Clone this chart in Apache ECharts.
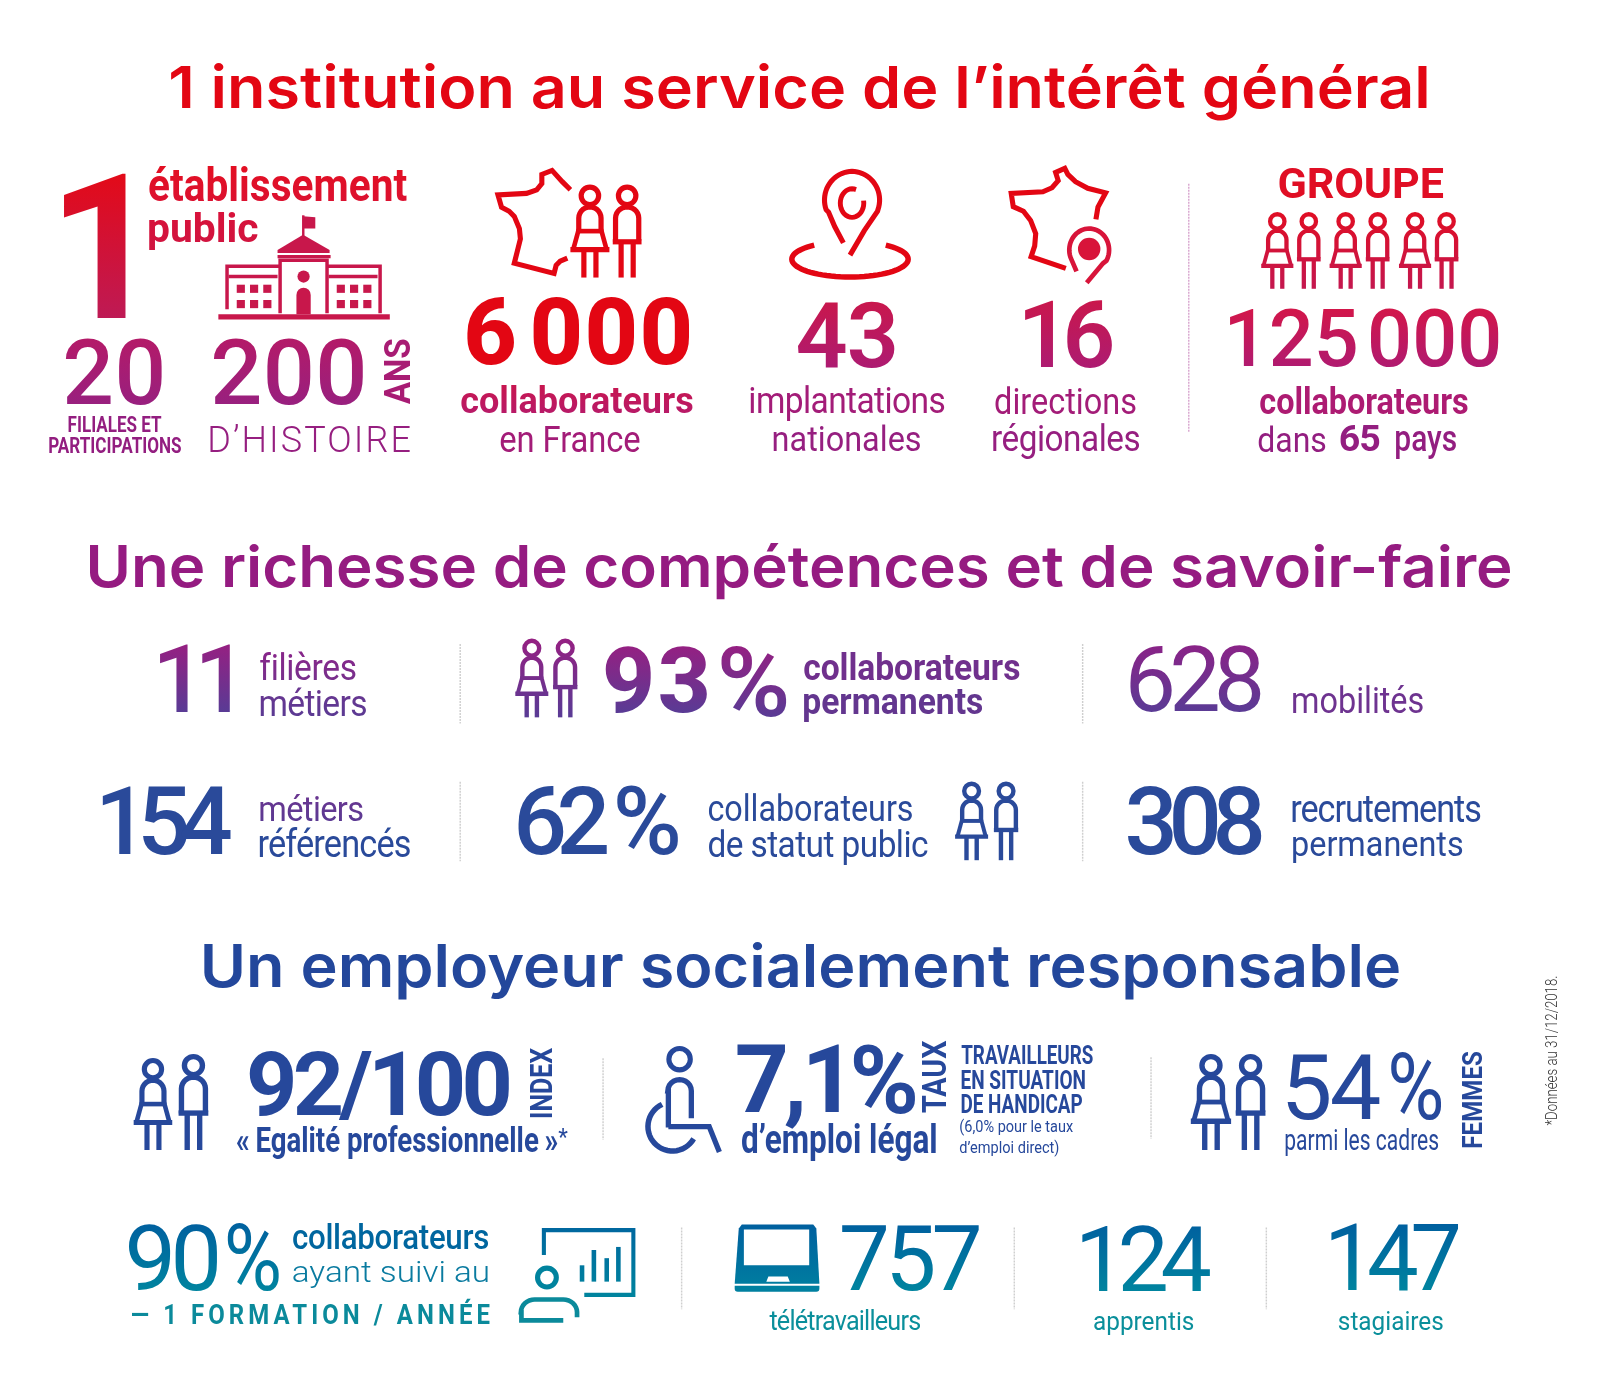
<!DOCTYPE html>
<html><head><meta charset="utf-8">
<script src="https://cdn.jsdelivr.net/npm/echarts@6/dist/echarts.min.js"></script>
<style>html,body{margin:0;padding:0;background:#fff}#c{width:1600px;height:1400px}</style>
</head><body><div id="c"></div>
<script>
/* ---------- content ---------- */
const headings = ['1 institution au service de l’intérêt général','Une richesse de compétences et de savoir-faire','Un employeur socialement responsable'];
const institutionFigures = ['1','20','200','6\u200A000','43','16','125\u200A000','65'];
const institutionLabels = ['établissement','public','FILIALES ET','PARTICIPATIONS','ANS','D’HISTOIRE','collaborateurs','en France','implantations','nationales','directions','régionales','GROUPE','collaborateurs','dans','pays'];
const skillFigures = ['11','93','%','628','154','62','%','308'];
const skillLabels = ['filières','métiers','collaborateurs','permanents','mobilités','métiers','référencés','collaborateurs','de statut public','recrutements','permanents'];
const employerFigures = ['92/100','7,1','%','54','%','90','%','757','124','147'];
const employerLabels = ['INDEX','«\u2009Egalité professionnelle\u2009»','*','TAUX','d’emploi légal','TRAVAILLEURS','EN SITUATION','DE HANDICAP','(6,0% pour le taux','d’emploi direct)','parmi les cadres','FEMMES','collaborateurs','ayant suivi au','— 1 FORMATION / ANNÉE','télétravailleurs','apprentis','stagiaires'];
const footnote = ['*Données au 31/12/2018.'];

/* ---------- helpers ---------- */
const K = 1600/1568, els = [], textFx = [];
const cv = document.createElement('canvas'), ctx = cv.getContext('2d',{willReadFrequently:true});
const RB='Roboto', HEAD='Inter';
function inkAt(str, weight, fam, sz, ls){
  const font = `${weight} ${sz}px ${fam}`;
  ctx.font = font; ctx.letterSpacing = (ls||0)+'px';
  const w = Math.ceil(ctx.measureText(str).width+sz+Math.abs(ls||0)*str.length);
  const h = Math.ceil(sz*2.5), bx=Math.ceil(sz/2), by=Math.ceil(sz*1.5);
  cv.width = w; cv.height = h;
  ctx.font = font; ctx.letterSpacing = (ls||0)+'px';
  ctx.textBaseline='alphabetic'; ctx.textAlign='left'; ctx.fillStyle='#000';
  ctx.fillText(str,bx,by);
  const d = ctx.getImageData(0,0,w,h).data;
  let x0=w,x1=0,y0=h,y1=0;
  for(let y=0;y<h;y++)for(let x=0;x<w;x++){
    if(d[(y*w+x)*4+3]>96){ if(x<x0)x0=x; if(x>x1)x1=x; if(y<y0)y0=y; if(y>y1)y1=y; }
  }
  return {A:by-y0, D:y1+1-by, L:bx-x0, R:x1+1-bx};
}
function midOffset(weight,fam,size){
  ctx.letterSpacing='0px';
  ctx.font = `${weight} ${size}px ${fam}`;
  ctx.textBaseline='alphabetic';
  const a = ctx.measureText('x');
  ctx.textBaseline='middle';
  const b = ctx.measureText('x');
  ctx.textBaseline='alphabetic';
  return b.actualBoundingBoxDescent-a.actualBoundingBoxDescent;
}
/* mode: 'scale' stretches the glyphs, 'track' only changes letter spacing, 'mix' does a bit of both,
   a number fixes the glyph stretch and leaves the rest to letter spacing */
function fit(str, extent, across, weight, fam, mode){
  const p = inkAt(str, weight, fam, 200);
  const size = 200*across/(p.A+p.D);
  const q = inkAt(str, weight, fam, size);
  const W0 = q.L+q.R, n = Math.max(1,[...str].length-1);
  let sxT = 1;
  if(mode==='scale') sxT = extent/W0;
  else if(mode==='mix') sxT = Math.max(extent/W0, 0.9);
  else if(typeof mode==='number') sxT = mode;
  const ls = mode==='scale' ? 0 : (extent/sxT - W0)/n;
  const q2 = Math.abs(ls)>1e-3 ? inkAt(str, weight, fam, size, ls) : q;
  return {size, ls:Math.abs(ls)>1e-3?ls:0, q:q2, sx: extent/(q2.L+q2.R), m: midOffset(weight,fam,size)};
}
function t(str, x0, x1, top, bot, weight, color, fam, mode){
  fam = fam||RB; mode = mode||'mix';
  if(bot-top>=45){                         /* large figures: optical side adjustment */
    const c=str[0];
    x0 += (c==='1'&&str.length>1)?5:(c==='4'||c==='%')?0.5:3;
    x1 -= c==='%'?0:1.5;
  }
  x0*=K;x1*=K;top*=K;bot*=K;
  const F = fit(str, x1-x0, bot-top, weight, fam, mode);
  const X = x0 + F.q.L*F.sx, Y = bot - F.q.D - F.m;
  const solid = Array.isArray(color)?color[0]:color;
  if(Array.isArray(color) || F.ls) textFx.push({str, X, top:top-Y, bot:bot-Y, color:Array.isArray(color)?color:null, ls:F.ls});
  els.push({type:'text', x:X, y:Y, scaleX:F.sx, silent:true,
    style:{text:str, font:`${weight} ${F.size}px ${fam}`, fill:solid, align:'left', verticalAlign:'middle'}});
}
function r(str, xL, xR, yT, yB, weight, color, fam, mode){
  fam = fam||RB; mode = mode||'scale'; xL*=K;xR*=K;yT*=K;yB*=K;
  const F = fit(str, yB-yT, xR-xL, weight, fam, mode);
  const X = xR-F.q.D-F.m;
  if(F.ls) textFx.push({str, X, color:null, ls:F.ls});
  els.push({type:'text', x:X, y:yB-F.q.L*F.sx, scaleX:F.sx, rotation:Math.PI/2, silent:true,
    style:{text:str, font:`${weight} ${F.size}px ${fam}`, fill:color, align:'left', verticalAlign:'middle'}});
}
function grad(col, y0, y1){
  if(!Array.isArray(col)) return col;
  return new echarts.graphic.LinearGradient(0,y0*K,0,y1*K,[{offset:0,color:col[0]},{offset:1,color:col[1]}],true);
}
function line(pts, lw, col, y0, y1, closed, dash){
  els.push({type:closed?'polygon':'polyline', silent:true, shape:{points:pts.map(p=>[p[0]*K,p[1]*K])},
    style:{stroke:grad(col,y0,y1), fill:null, lineWidth:lw*K, lineCap:'butt', lineJoin:'miter', lineDash:dash||null}});
}
function poly(pts, col, y0, y1){
  els.push({type:'polygon', silent:true, shape:{points:pts.map(p=>[p[0]*K,p[1]*K])}, style:{fill:grad(col,y0,y1)}});
}
function box(x,y,w,h,col,y0,y1,rr){
  els.push({type:'rect', silent:true, shape:{x:x*K,y:y*K,width:w*K,height:h*K,r:rr?rr.map(v=>v*K):0}, style:{fill:grad(col,y0,y1)}});
}
function dot(cx,cy,rad,col,y0,y1){
  els.push({type:'circle', silent:true, shape:{cx:cx*K,cy:cy*K,r:rad*K}, style:{fill:grad(col,y0,y1)}});
}
function ring(cx,cy,rad,lw,col,y0,y1){
  els.push({type:'circle', silent:true, shape:{cx:cx*K,cy:cy*K,r:rad*K}, style:{fill:'none',stroke:grad(col,y0,y1),lineWidth:lw*K}});
}
function arc(cx,cy,rx,ry,a0,a1,n){
  const out=[]; n=n||24;
  for(let i=0;i<=n;i++){const a=(a0+(a1-a0)*i/n)*Math.PI/180; out.push([cx+rx*Math.cos(a),cy+ry*Math.sin(a)]);}
  return out;
}
function person(kind,x,top,h,col){
  const s=h/100, y0=top, y1=top+h, P=(a,b)=>[x+a*s,top+b*s];
  const cx = kind==='f'?21:15.5;
  ring(x+cx*s, top+12*s, 9.4*s, 5.6*s, col,y0,y1);
  const lw=5.6*s, draw=(pts,w)=>line(pts,w||lw,col,y0,y1);
  if(kind==='f'){
    draw([P(9,50)].concat(arc(0,0,1,1,180,360,14).map(p=>P(21+12*p[0],36+12*p[1]))).concat([P(33,50)]));
    draw([P(9,50),P(33,50)],5*s);
    draw([P(9,48),P(3,70)],5*s); draw([P(33,48),P(39,70)],5*s);
    draw([P(0,70),P(42,70)]);
    draw([P(14.5,70),P(14.5,100)]); draw([P(27.5,70),P(27.5,100)]);
  }else{
    draw([P(3,62)].concat(arc(0,0,1,1,180,360,14).map(p=>P(15.5+12.5*p[0],36+12*p[1]))).concat([P(28,60)]));
    draw([P(0,61.5),P(31,61.5)]);
    draw([P(9,61),P(9,100)]); draw([P(22,61),P(22,100)]);
  }
}
function sep(x,y0,y1,col){ line([[x,y0],[x,y1]],1.4,col||'#cfcfcf',y0,y1,false,[2,1]); }

/* ---------- colours ---------- */
const RED='#e30613';
const TR='track', SC='scale';

/* ---------- section 1 ---------- */
t(headings[0],163,1400,63,119,600,RED,HEAD,SC);
t(institutionFigures[0],60,124,170,312,700,['#e30a18','#be1a55'],RB,SC);
t(institutionLabels[0],146,398,163,197,700,['#e30f22','#dc1130'],RB,SC);
t(institutionLabels[1],146,253,207,245,700,['#d8123a','#d01440'],RB,SC);
t(institutionFigures[1],62,160,331,397,500,['#b41a68','#98207f'],RB,TR);
t(institutionLabels[2],67,158,407,423,700,'#931e80',RB,SC);
t(institutionLabels[3],48,177,428,444,700,'#931e80',RB,SC);
t(institutionFigures[2],207,357,331,397,500,['#b41a68','#98207f'],RB,TR);
r(institutionLabels[4],375,402,333,396,700,'#a81c74',RB,SC);
t(institutionLabels[5],206,402,416,443,300,'#961f80',RB,TR);
t(institutionFigures[3],455,677,291,358,800,RED,RB,TR);
t(institutionLabels[6],452,679,377,405,700,['#c8164f','#b81a68']);
t(institutionLabels[7],491,627,417,443,400,'#a31c78');
t(institutionFigures[4],781,878,295,361,600,['#c9174c','#ad1b72'],RB,TR);
t(institutionLabels[8],736,925,378,413,400,'#a31c78');
t(institutionLabels[9],758,902,416,442,400,'#961f80');
t(institutionFigures[5],999,1091,295,361,600,['#c9174c','#ad1b72'],RB,TR);
t(institutionLabels[10],976,1113,379,406,400,'#a31c78');
t(institutionLabels[11],973,1116,415,450,400,'#961f80');
sep(1165,180,424,'#d8a6cf');
t(institutionLabels[12],1254,1414,163,194,700,'#e00e24',RB,TR);
t(institutionFigures[6],1200,1470,303,360,500,['#d2164a','#b01a70'],RB,TR);
t(institutionLabels[13],1235,1438,379,406,700,'#ad1b72');
t(institutionLabels[14],1233,1299,417,443,400,'#931e80');
t(institutionFigures[7],1314,1352,415,442,700,'#931e80',RB,TR);
t(institutionLabels[15],1368,1427,422,450,500,'#931e80',RB,SC);

/* building */
const BC='#c8174b';
box(214,308,168,5,BC);
box(296,211,2.4,21,BC);
poly([[297,212],[309,213],[309,224],[297,224]],BC);
poly([[272,245],[272,248],[323,248],[323,245],[297,230]],BC);
box(272,250,52,3,BC);
line([[274.5,307],[274.5,255],[320.5,255],[320.5,307]],3.4,BC);
line([[274,261],[222.5,261],[222.5,303]],3.4,BC);
line([[321,261],[372.5,261],[372.5,307]],3.4,BC);
line([[224,271],[272,271]],3.4,BC);
line([[322,271],[370,271]],3.4,BC);
[232,245,258].forEach(x=>[279,294].forEach(y=>box(x,y,8,8,BC)));
[330,343,356].forEach(x=>[279,294].forEach(y=>box(x,y,8,8,BC)));
dot(297.5,271,6,BC);
box(290.5,282,14,26,BC,0,0,[7,7,0,0]);

/* France + people */
line([[559,186],[551,178],[541,167],[531,171],[531,180],[526,186],[516,189.5],[488,191],[491.5,203],[499,207],[504,212],[509,224],[510,234],[507,246],[504,258],[543,268],[545,260],[549,256],[556,253]],5,RED);
person('f',559,181,91,RED); person('m',600.5,181,91,RED);

/* pin + ellipse */
line(arc(833,254,57,17.5,-52,232,60),5.4,RED);
line([[833,250],[847,226],[860,207]].concat(arc(835,196,27,28,20,-200,40)).concat([[812,208],[818,222],[826.5,238]]),5,RED);
line(arc(835,199,11.5,14,-70,-370,30),4.8,RED);
/* France with pin */
line([[1074,215],[1076,203],[1083.5,189],[1066,184.5],[1054,178],[1046.5,171],[1043.5,165],[1034.5,169],[1037,177],[1031,184],[1022,188],[991,189.5],[993,202.5],[1003,207],[1010,216],[1015,229],[1014,241],[1010.5,251.5],[1044.5,263]],5,RED);
line([[1065,277],[1081,258]].concat(arc(1067.4,245,19.5,21,30,-200,40)).concat([[1055,266]]),4.6,'#d8143a');
dot(1067.4,244,11,'#d8143a');

/* six people */
const groupX=[1236,1271,1303,1338.5,1371,1406];
groupX.forEach((x,i)=>person(i%2?'m':'f',x,208,75,['#e00e24','#c4174f']));

/* ---------- section 2 ---------- */
const PB=['#952082','#593b95'];
t(headings[1],85,1482,532,587,600,'#951b81',HEAD,SC);
t(skillFigures[0],152,227,632,698,500,PB,RB,TR);
t(skillLabels[0],255,348,638,666,400,['#88258a','#78308c']);
t(skillLabels[1],255,359,674,702,400,['#6a3590','#5b3a93']);
sep(451,631,709);
person('f',505,626,77,PB); person('m',542,626,77,PB);
t(skillFigures[1],591,694,633,699,800,PB,RB,TR);
t(skillFigures[2],707,771,633,703,600,PB,RB,SC);
t(skillLabels[2],788,999,638,666,700,'#70308d');
t(skillLabels[3],788,963,677,708,700,'#63368f');
sep(1061,631,709);
t(skillFigures[3],1105,1237,632,698,400,['#8a2387','#5a3b95'],RB,TR);
t(skillLabels[4],1267,1394,672,699,400,'#6e3390');
const NV='#2a4a9a';
t(skillFigures[4],96,228,771,838,500,NV,RB,TR);
t(skillLabels[5],255,359,779,805,400,NV);
t(skillLabels[6],255,402,811,840,400,NV);
sep(451,766,844);
t(skillFigures[5],505,596,770,838,500,NV,RB,TR);
t(skillFigures[6],604,664,770,838,500,NV,RB,SC);
t(skillLabels[7],695,894,778,805,400,NV);
t(skillLabels[8],695,909,813,848,400,NV);
person('f',936,766,77,NV); person('m',974,766,77,NV);
sep(1061,766,844);
t(skillFigures[7],1103,1238,770,838,500,NV,RB,TR);
t(skillLabels[9],1267,1451,781,806,400,NV);
t(skillLabels[10],1267,1433,816,846,400,NV);

/* ---------- section 3 ---------- */
const BL='#26489b';
t(headings[2],197,1372,924,980,600,'#23479b',HEAD,SC);
person('f',131,1037,90,BL); person('m',175,1033,94,BL);
t(employerFigures[0],242,500,1029,1098,700,BL,RB,TR);
r(employerLabels[0],519,541,1027,1095,700,BL,RB,SC);
t(employerLabels[1],232,546,1102,1136,700,BL,RB,SC);
t(employerLabels[2],548,556,1105,1115,400,BL,RB,SC);
sep(591,1037,1117);
/* wheelchair */
ring(666,1038,10.5,5,BL);
line([[655,1105],[655,1069]].concat(arc(666,1069,11.5,11,180,360,12)).concat([[677.5,1096]]),5.2,BL);
line([[655,1104],[695,1104],[705,1129]],5.2,BL);
line(arc(659,1104,24,24,-115,-330,30),5.4,BL);
t(employerFigures[1],720,823,1024,1106,700,BL,RB,TR);
t(employerFigures[2],836,897,1024,1092,700,BL,RB,SC);
r(employerLabels[3],903,927,1020,1090,700,BL,RB,SC);
t(employerLabels[4],727,917,1100,1138,700,BL,RB,SC);
t(employerLabels[5],942,1071,1025,1043,700,BL,RB,SC);
t(employerLabels[6],942,1063,1049,1067,700,BL,RB,SC);
t(employerLabels[7],942,1060,1073,1091,700,BL,RB,SC);
t(employerLabels[8],941,1051,1097,1113,400,BL,RB,SC);
t(employerLabels[9],941,1037,1117,1133,400,BL,RB,SC);
sep(1128,1036,1116);
person('f',1167,1033,94,BL); person('m',1211,1033,94,BL);
t(employerFigures[3],1259,1353,1033,1098,400,BL,RB,TR);
t(employerFigures[4],1363,1412,1031,1098,400,BL,RB,SC);
t(employerLabels[10],1260,1409,1105,1133,400,BL,RB,SC);
r(employerLabels[11],1432,1452,1031,1124,700,BL,RB,SC);
r(footnote[0],1514,1527,957,1103,300,'#333333',RB,SC);

const TL=['#00609f','#00849f'];
t(employerFigures[5],123,214,1199,1265,400,TL,RB,TR);
t(employerFigures[6],223,273,1198,1265,400,TL,RB,SC);
t(employerLabels[12],287,478,1198,1224,500,'#00669f');
t(employerLabels[13],287,478,1234,1262,300,'#0a7ba0');
t(employerLabels[14],129,480,1272,1299,700,'#0b8a9b',RB,0.84);
/* training icon */
line([[533,1230],[533,1205.5],[620.7,1205.5],[620.7,1269],[572.6,1269]],4,['#00689f','#00849e'],1205,1270);
[[570.4,1240],[582,1225],[594.6,1233],[606,1222]].forEach(b=>line([[b[0],1256],[b[0],b[1]]],4.5,['#00689f','#00849e'],1205,1270));
ring(536,1252,9.2,5,'#00839e');
line([[552,1294],[511,1294],[511,1286]].concat(arc(524,1286,13.5,12.5,180,270,8)).concat(arc(552,1286,13.5,12.5,270,360,8)).concat([[565.5,1291]]),4.6,'#0b8a9b');
sep(668,1203,1283);
/* laptop */
const LC=['#00609f','#0080a0'];
poly([[724,1204],[727,1200],[797,1200],[800,1204],[803,1258],[720,1258]],LC,1200,1267);
box(729,1205,64,35,'#ffffff');
poly([[753,1251],[772,1251],[774,1256],[751,1256]],'#ffffff');
box(720,1260,83,6,'#0080a0',0,0,[0,0,3,3]);
t(employerFigures[7],822,961,1200,1265,400,TL,RB,TR);
sep(994,1203,1283);
t(employerFigures[8],1056,1187,1200,1265,400,TL,RB,TR);
sep(1241,1203,1283);
t(employerFigures[9],1300,1430,1200,1265,400,TL,RB,TR);
t(employerLabels[15],754,902,1282,1303,400,'#0a8f9b');
t(employerLabels[16],1072,1169,1284,1308,400,'#0a8f9b');
t(employerLabels[17],1312,1414,1284,1308,400,'#0a8f9b');

const chart = echarts.init(document.getElementById('c'),null,{renderer:'canvas',width:1600,height:1400});

/* zrender text has no vertical gradient or letter spacing: add them when each text is painted */
const layer = chart.getZr().painter.getLayer(0), lc = layer.ctx, dpr = layer.dpr||1;
const baseFill = lc.fillText;
lc.fillText = function(s){
  const e = this.getTransform().e/dpr;
  const fx = textFx.find(o=>o.str===s && Math.abs(o.X-e)<1);
  if(!fx) return baseFill.apply(this,arguments);
  this.save();
  if(fx.color){
    const g=this.createLinearGradient(0,fx.top,0,fx.bot);
    g.addColorStop(0,fx.color[0]); g.addColorStop(1,fx.color[1]);
    this.fillStyle=g;
  }
  if(fx.ls) this.letterSpacing=fx.ls+'px';
  baseFill.apply(this,arguments);
  this.restore();
};
chart.setOption({backgroundColor:'#ffffff',animation:false,graphic:{elements:els}});
</script></body></html>
